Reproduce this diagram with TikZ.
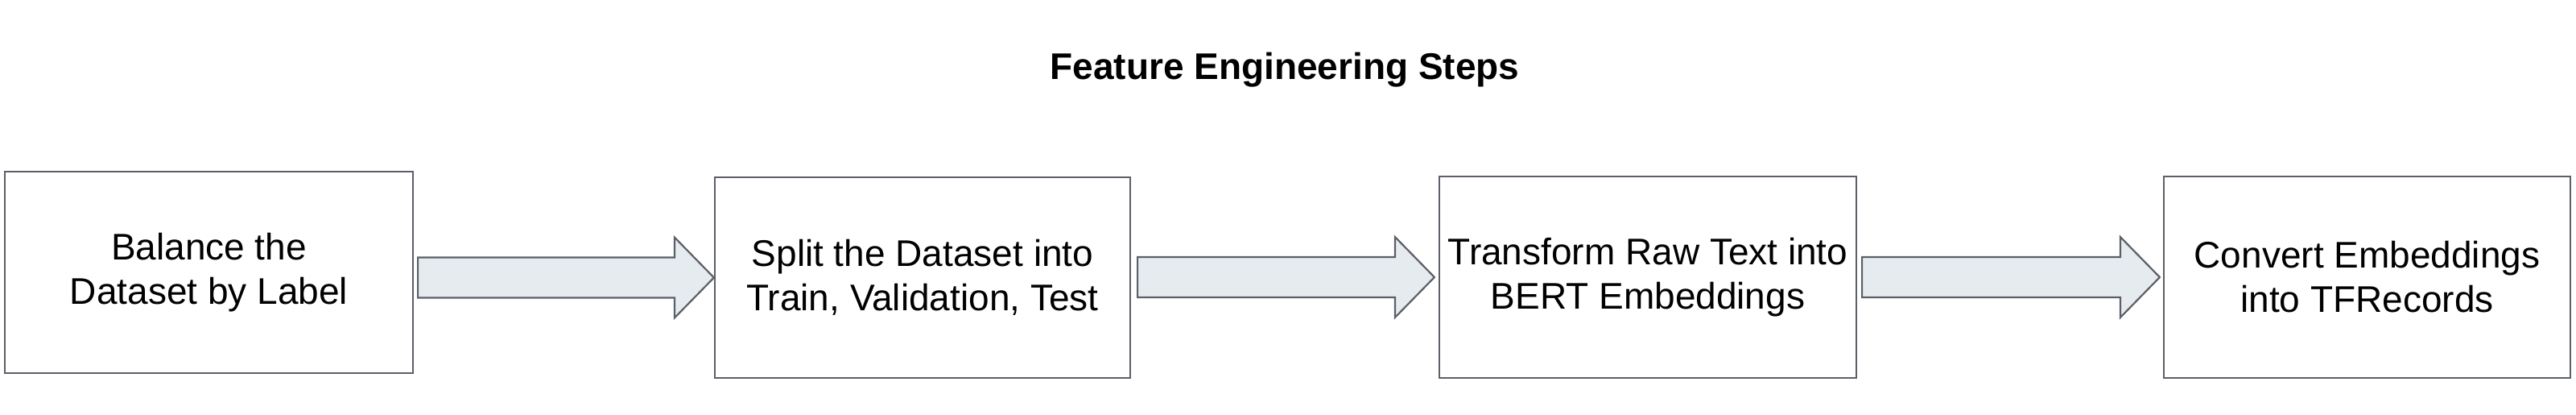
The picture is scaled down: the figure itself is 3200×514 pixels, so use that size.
\documentclass[tikz,border=0pt]{standalone}
\usepackage{fontspec}
\setmainfont{Liberation Sans}
\usetikzlibrary{calc}
\definecolor{edgegray}{HTML}{5B6068}
\definecolor{arrowfill}{HTML}{E6EBF0}
\tikzset{
  stepbox/.style={draw=edgegray, line width=2.2pt, fill=white, rectangle, inner sep=0pt,
    align=center, font=\fontsize{46}{55}\selectfont, text=black},
  blockarr/.style={draw=edgegray, line width=2.2pt, fill=arrowfill, line join=miter},
  titlestyle/.style={font=\fontsize{46}{55}\selectfont\bfseries, text=black, inner sep=0pt}
}
\newcommand\blockarrow[2]{%
  \draw[blockarr] let \p1=(#1), \p2=(#2) in
    (\x1,\y2+25pt) -- (\x2-49pt,\y2+25pt) -- (\x2-49pt,\y2+50pt) -- (\x2,\y2)
    -- (\x2-49pt,\y2-50pt) -- (\x2-49pt,\y2-25pt) -- (\x1,\y2-25pt) -- cycle;}
\begin{document}
\begin{tikzpicture}[x=1pt,y=-1pt]
  \useasboundingbox (0,0) rectangle (3200,514);
  \node[titlestyle, anchor=base] (title) at (1596,98) {Feature Engineering Steps};
  \node[stepbox, minimum width=507pt, minimum height=250pt] (b1) at (259.5,338) {Balance the\\Dataset by Label};
  \node[stepbox, minimum width=516pt, minimum height=249pt] (b2) at (1146,344.5) {Split the Dataset into\\Train, Validation, Test};
  \node[stepbox, minimum width=518pt, minimum height=250pt] (b3) at (2047,344) {Transform Raw Text into\\BERT Embeddings};
  \node[stepbox, minimum width=505pt, minimum height=250pt] (b4) at (2940.5,344) {Convert Embeddings\\into TFRecords};
  \coordinate (a1s) at ($(b1.east |- b2.west)+(5,0)$);
  \coordinate (a1t) at (b2.west);
  \coordinate (a2s) at ($(b2.east |- b3.west)+(8,0)$);
  \coordinate (a2t) at ($(b3.west)+(-5,0)$);
  \coordinate (a3s) at ($(b3.east |- b4.west)+(6,0)$);
  \coordinate (a3t) at ($(b4.west)+(-4,0)$);
  \blockarrow{a1s}{a1t}
  \blockarrow{a2s}{a2t}
  \blockarrow{a3s}{a3t}
\end{tikzpicture}
\end{document}
